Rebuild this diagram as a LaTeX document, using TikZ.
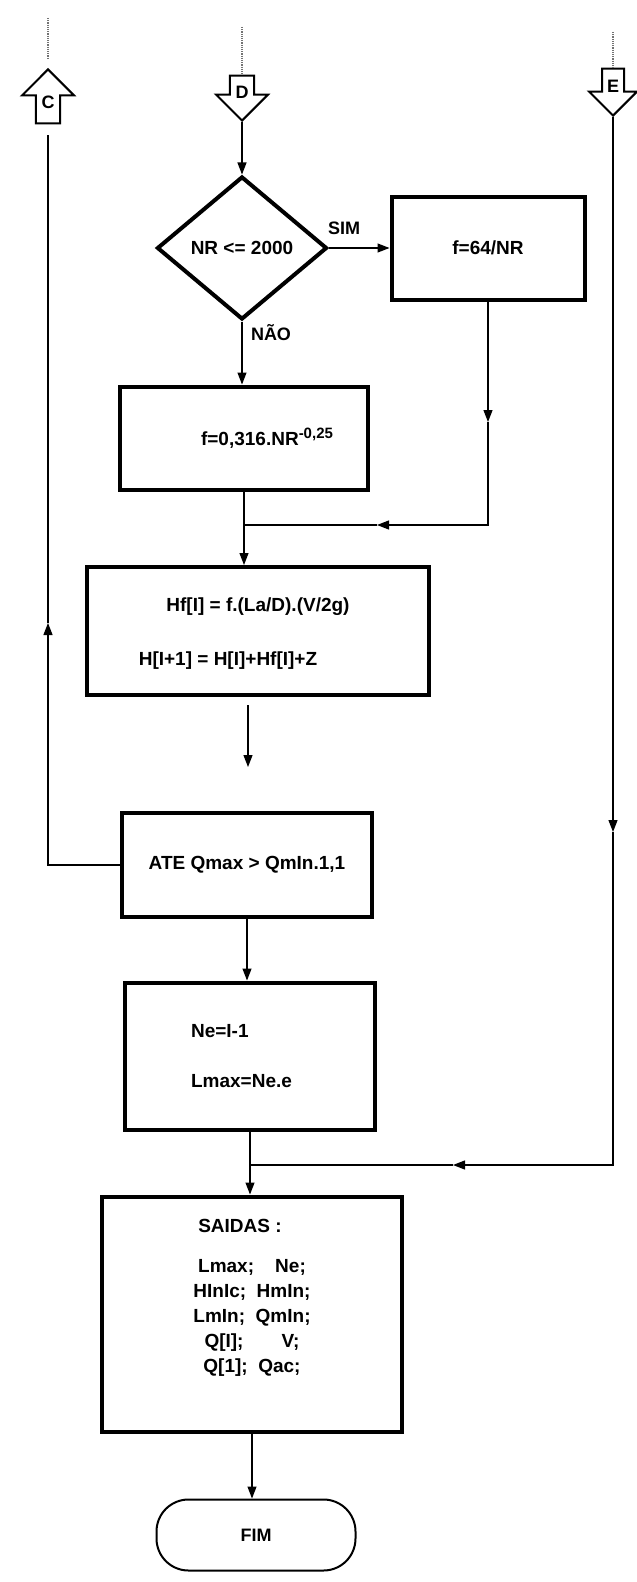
\documentclass[tikz,border=0pt]{standalone}
\usepackage{fontspec}
\setmainfont{Liberation Sans}
\usetikzlibrary{positioning,arrows.meta,shapes.geometric,shapes.arrows,calc}
\newcommand\boxfont{\bfseries\fontsize{19bp}{25bp}\selectfont}
\tikzset{
  box/.style    ={draw,line width=4bp,font=\boxfont,align=center,inner sep=2bp},
  cond/.style   ={draw,diamond,aspect=1.19,line width=4bp,font=\boxfont,inner sep=0pt,
                  minimum width=170bp,minimum height=143bp},
  term/.style   ={draw,rounded corners=32bp,line width=2bp,font=\bfseries\fontsize{18bp}{18bp}\selectfont,
                  minimum width=199bp,minimum height=71bp},
  offpage/.style={single arrow,draw,line width=2bp,font=\bfseries\fontsize{18bp}{18bp}\selectfont,
                  inner sep=4bp,minimum width=52bp,single arrow head extend=13bp},
  yesno/.style  ={font=\bfseries\fontsize{18bp}{18bp}\selectfont,inner sep=0pt},
  flow/.style   ={-{Triangle[length=12bp,width=9bp]},line width=1.2bp},
  wire/.style   ={line width=1.2bp},
  feed/.style   ={densely dotted,line width=1.2bp,draw=black!55},
}
\begin{document}
\begin{tikzpicture}[x=1bp,y=-1bp]
\useasboundingbox (0,0) rectangle (637,1582);

% off-page connectors
\node[offpage,shape border rotate=90,minimum height=54bp,anchor=tip] (C) at (48,68) {C};
\node[offpage,shape border rotate=270,minimum height=45bp,anchor=tip] (D) at (242,122) {D};
\node[offpage,shape border rotate=270,minimum height=47bp,minimum width=46bp,anchor=tip] (E) at (613,117) {E};
\coordinate (Ctop) at (48,18);
\coordinate (Dtop) at (242,27);
\coordinate (Etop) at (613,32);
\draw[feed] (Ctop) -- ([yshift=10bp]C.tip);
\draw[feed] (Dtop) -- (D.tail);
\draw[feed] (Etop) -- (E.tail);

% decision
\node[cond] (dia) at (242,248) {NR <= 2000};
\node[box,minimum width=193bp,minimum height=103bp] (f64) at (488,248) {f=64/NR};
\node[yesno] (sim) at (344,228) {SIM};
\node[yesno] (nao) at (271,333) {NÃO};
\node[box,minimum width=248bp,minimum height=103bp] (f0) at (244,438)
 {\hspace*{46bp}f=0,316.NR\raisebox{7bp}{\fontsize{15bp}{15bp}\selectfont -0,25}};

% head loss
\node[box,minimum width=342bp,minimum height=128bp] (hf) at (258,631)
 {\mbox{}\\[-7bp]
  Hf[I] = f.(La/D).(V/2g)\hspace*{36bp}\\[29bp]
  H[I+1] = H[I]+Hf[I]+Z\hspace*{60bp}};
\node[box,minimum width=250bp,minimum height=104bp] (ate) at (247,865) {ATE Qmax > QmIn.1,1};
\node[box,align=left,minimum width=250bp,minimum height=147bp] (ne) at (250,1056)
 {Ne=I-1\\[25bp]
  Lmax=Ne.e\hspace*{17bp}};

% outputs
\node[box,minimum width=300bp,minimum height=235bp] (out) at (252,1314)
 {SAIDAS :\hspace*{24bp}\\[15bp]
  Lmax;\ \ \ \ Ne;\\
  HInIc;\ \ HmIn;\\
  LmIn;\ \ QmIn;\\
  Q[I];\qquad V;\\
  Q[1];\ \ Qac;\\[11bp]\mbox{}};
\node[term] (fim) at (256,1535) {FIM};

% flow lines
\draw[flow] (D.tip) -- (dia.north);
\draw[flow] (dia.east) -- (f64.west);
\draw[flow] (dia.south) -- (dia.south |- f0.north);

\coordinate (fA) at (f64.south |- 0,422);
\coordinate (fB) at (377,525);
\coordinate (jA) at (f0.south |- 0,525);
\draw[flow] (f64.south) -- (fA);
\draw[flow] (fA) |- (fB);
\draw[wire] (fB) -- (jA);
\draw[flow] (f0.south) -- (f0.south |- hf.north);

\coordinate (hfA) at (248,705);
\coordinate (hfB) at (248,767);
\draw[flow] (hfA) -- (hfB);

\coordinate (cA) at (48,623);
\draw[flow] (ate.west) -| (cA);
\draw[wire] (cA) -- ([yshift=-11bp]C.tail);

\draw[flow] (ate.south) -- (ate.south |- ne.north);
\draw[flow] (ne.south) -- (ne.south |- out.north);

\coordinate (eA) at (E.tip |- 0,832);
\coordinate (eB) at (453,1165);
\coordinate (jB) at (ne.south |- 0,1165);
\draw[flow] (E.tip) -- (eA);
\draw[flow] (eA) |- (eB);
\draw[wire] (eB) -- (jB);

\draw[flow] (out.south) -- (out.south |- fim.north);

\end{tikzpicture}
\end{document}
